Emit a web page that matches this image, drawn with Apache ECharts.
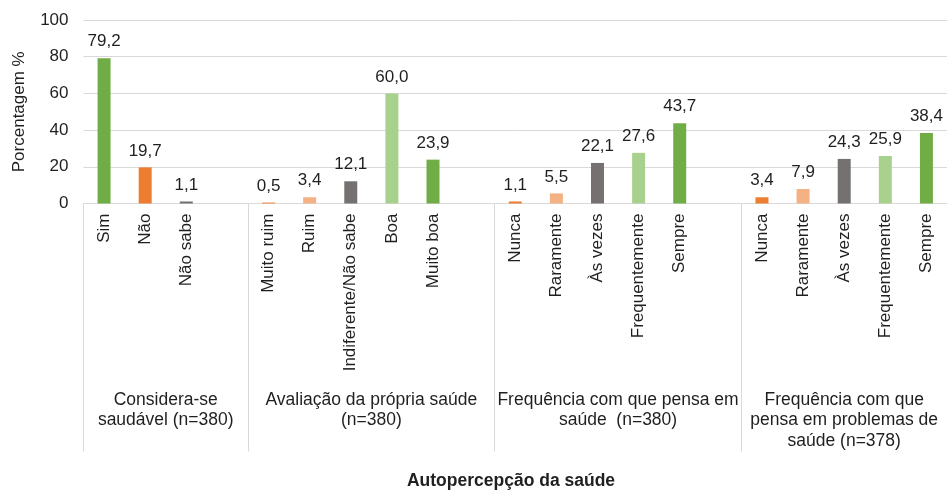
<!DOCTYPE html>
<html>
<head>
<meta charset="utf-8">
<script src="https://cdn.jsdelivr.net/npm/echarts@6/dist/echarts.min.js"></script>
<style>
  html, body { margin: 0; padding: 0; background: #ffffff; }
  #chart { width: 947px; height: 490px; }
</style>
</head>
<body>
<div id="chart"></div>
<script>
// ---- Data ----
const categories = [
  'Sim', 'Não', 'Não sabe', '',
  'Muito ruim', 'Ruim', 'Indiferente/Não sabe', 'Boa', 'Muito boa', '',
  'Nunca', 'Raramente', 'Às vezes', 'Frequentemente', 'Sempre', '',
  'Nunca', 'Raramente', 'Às vezes', 'Frequentemente', 'Sempre'
];
const values = [
  79.2, 19.7, 1.1, null,
  0.5, 3.4, 12.1, 60.0, 23.9, null,
  1.1, 5.5, 22.1, 27.6, 43.7, null,
  3.4, 7.9, 24.3, 25.9, 38.4
];
const groupLabels = [
  'Considera-se\nsaudável (n=380)',
  'Avaliação da própria saúde\n(n=380)',
  'Frequência com que pensa em\nsaúde  (n=380)',
  'Frequência com que\npensa em problemas de\nsaúde (n=378)'
];
// group boundaries / centers measured in category slots
const groupBounds = [0, 4, 10, 16, 21];
const groupCenters = [2, 7, 13, 18.5];
const yTicks = [0, 20, 40, 60, 80, 100];

// ---- Styles ----
const GREEN = '#70AD47', ORANGE = '#ED7D31', LORANGE = '#F4B183', GRAY = '#767171', LGREEN = '#A9D18E';
const barColors = [
  GREEN, ORANGE, GRAY, GRAY,
  ORANGE, LORANGE, GRAY, LGREEN, GREEN, GRAY,
  ORANGE, LORANGE, GRAY, LGREEN, GREEN, GRAY,
  ORANGE, LORANGE, GRAY, LGREEN, GREEN
];
const FONT = '"Liberation Sans", Arial, sans-serif';
const TXT = '#1f1f1f';
const LINE = '#d9d9d9';

const chart = echarts.init(document.getElementById('chart'), null, { renderer: 'canvas' });
chart.setOption({
  animation: false,
  backgroundColor: '#ffffff',
  textStyle: { fontFamily: FONT },
  grid: { left: 83.5, right: -3.8, top: 20, bottom: 286.5, containLabel: false },
  xAxis: [
    {
      type: 'category',
      data: categories,
      boundaryGap: true,
      axisLine: { show: true, lineStyle: { color: LINE, width: 1 } },
      axisTick: { show: false },
      axisLabel: {
        interval: 0, rotate: 90, margin: 10,
        fontSize: 17, color: TXT, fontFamily: FONT
      },
      splitLine: { show: false }
    },
    {
      type: 'value',
      min: groupBounds[0],
      max: groupBounds[groupBounds.length - 1],
      position: 'bottom',
      offset: 0,
      axisLine: { show: false },
      axisTick: {
        show: true, customValues: groupBounds, length: 248, inside: false,
        lineStyle: { color: LINE, width: 1 }
      },
      axisLabel: {
        show: true, customValues: groupCenters, margin: 186,
        fontSize: 17.5, lineHeight: 20.5, color: TXT, fontFamily: FONT,
        align: 'center', verticalAlign: 'top',
        formatter: function (v) {
          const i = groupCenters.indexOf(v);
          return i >= 0 ? groupLabels[i] : '';
        }
      },
      splitLine: { show: false }
    }
  ],
  yAxis: {
    type: 'value',
    min: yTicks[0], max: yTicks[yTicks.length - 1], interval: 20,
    name: 'Porcentagem %',
    nameLocation: 'middle', nameGap: 56,
    nameTextStyle: { fontSize: 17, color: TXT, fontFamily: FONT },
    axisLine: { show: false },
    axisTick: { show: false },
    axisLabel: { fontSize: 17, color: TXT, margin: 15, fontFamily: FONT },
    splitLine: { show: true, lineStyle: { color: LINE, width: 1 } }
  },
  series: [{
    type: 'bar',
    xAxisIndex: 0,
    yAxisIndex: 0,
    barWidth: 13,
    data: values.map(function (v, i) {
      return { value: v, itemStyle: { color: barColors[i] } };
    }),
    label: {
      show: true, position: 'top', distance: 8,
      fontSize: 17, color: TXT, fontFamily: FONT,
      formatter: function (p) {
        return p.value == null ? '' : Number(p.value).toFixed(1).replace('.', ',');
      }
    }
  }],
  graphic: [{
    type: 'text',
    x: 511, y: 481,
    style: {
      text: 'Autopercepção da saúde',
      align: 'center', verticalAlign: 'middle',
      font: 'bold 17.5px "Liberation Sans", Arial, sans-serif',
      fill: TXT
    }
  }]
});
</script>
</body>
</html>
